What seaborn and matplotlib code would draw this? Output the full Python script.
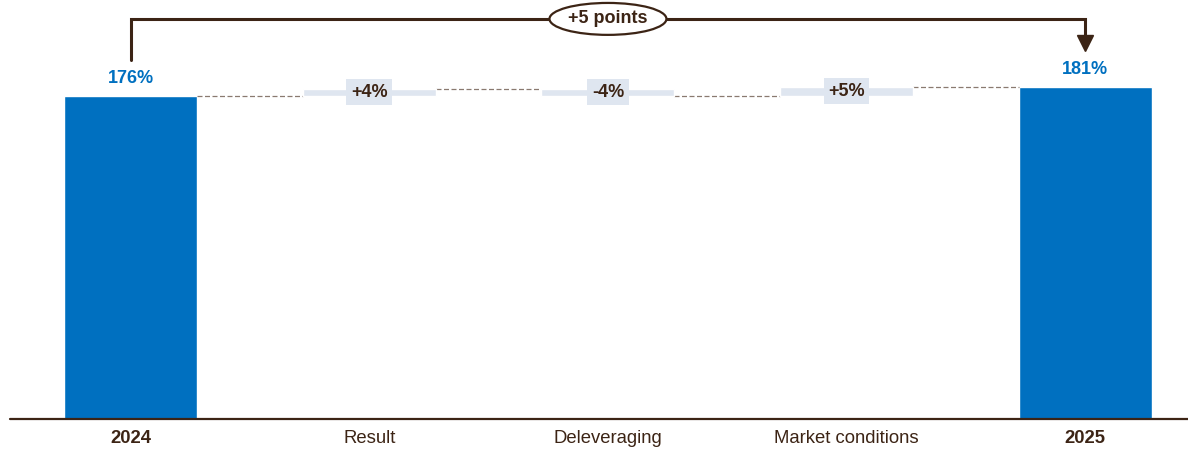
import numpy as np
import pandas as pd
import seaborn as sns
from matplotlib import pyplot as plt
from matplotlib.patches import Ellipse

# chart data
categories = ['2024', 'Result', 'Deleveraging', 'Market conditions', '2025']
start_value = 176
end_value = 181
steps = [4, -4, 5]
step_labels = ['+4%', '-4%', '+5%']
total_labels = ['176%', '181%']
change_label = '+5 points'

blue = '#0070c0'
brown = '#3c2415'
pale = '#dfe6f0'
dash = '#8a7a70'

sns.set_style("white")
plt.rcParams['font.family'] = ['Liberation Sans', 'DejaVu Sans']

fig = plt.figure(figsize=(11.88, 4.51), dpi=100)
ax = fig.add_axes([10 / 1188, 32 / 451, 1178 / 1188, 419 / 451])

# totals with seaborn
totals = pd.DataFrame({'cat': ['2024', '2025'], 'val': [start_value, end_value]})
sns.barplot(data=totals, x='cat', y='val', order=categories, color=blue,
            width=0.557, saturation=1, ax=ax)

# floating step bars
levels = [start_value]
for s in steps:
    levels.append(levels[-1] + s)
bottoms = [min(levels[i], levels[i + 1]) for i in range(len(steps))]
heights = [abs(s) for s in steps]
ax.bar([1, 2, 3], heights, bottom=bottoms, width=0.557, color=pale, zorder=2)

for i, lab in enumerate(step_labels):
    ax.text(i + 1, bottoms[i] + heights[i] / 2, lab, ha='center', va='center',
            fontsize=13, fontweight='bold', color=brown, zorder=4,
            bbox=dict(boxstyle='square,pad=0.25', fc=pale, ec='none'))

# dashed connectors
half = 0.557 / 2
for i in range(4):
    ax.plot([i + half, i + 1 - half], [levels[i], levels[i]], ls=(0, (4, 2)),
            lw=0.9, color=dash, zorder=1)

# total labels
ax.text(0, start_value + 5, total_labels[0], ha='center', va='bottom',
        fontsize=13, fontweight='bold', color=blue)
ax.text(4, end_value + 5, total_labels[1], ha='center', va='bottom',
        fontsize=13, fontweight='bold', color=blue)

# bracket with arrow
ax.plot([0, 0, 4, 4], [195.6, 218, 218, 206], color=brown, lw=2.2,
        solid_joinstyle='miter', clip_on=False, zorder=3)
ax.plot([4], [205], marker='v', markersize=11, color=brown, clip_on=False, zorder=3)
ax.add_patch(Ellipse((2, 218), 0.49, 17.4, fc='white', ec=brown, lw=1.6,
                     zorder=5, clip_on=False))
ax.text(2, 218, change_label, ha='center', va='center', fontsize=13,
        fontweight='bold', color=brown, zorder=6)

# axes
ax.set_xlim(-0.505, 4.43)
ax.set_ylim(0, 228.3)
ax.axhline(0, color=brown, lw=1.6, zorder=3, clip_on=False)
for sp in ax.spines.values():
    sp.set_visible(False)
ax.set_yticks([])
ax.set_xlabel('')
ax.set_ylabel('')
ax.tick_params(axis='x', length=0, pad=8, labelsize=13.3, labelcolor=brown)
for t in ax.get_xticklabels():
    if t.get_text() in ('2024', '2025'):
        t.set_fontweight('bold')

fig.savefig('out.png', dpi=100)
